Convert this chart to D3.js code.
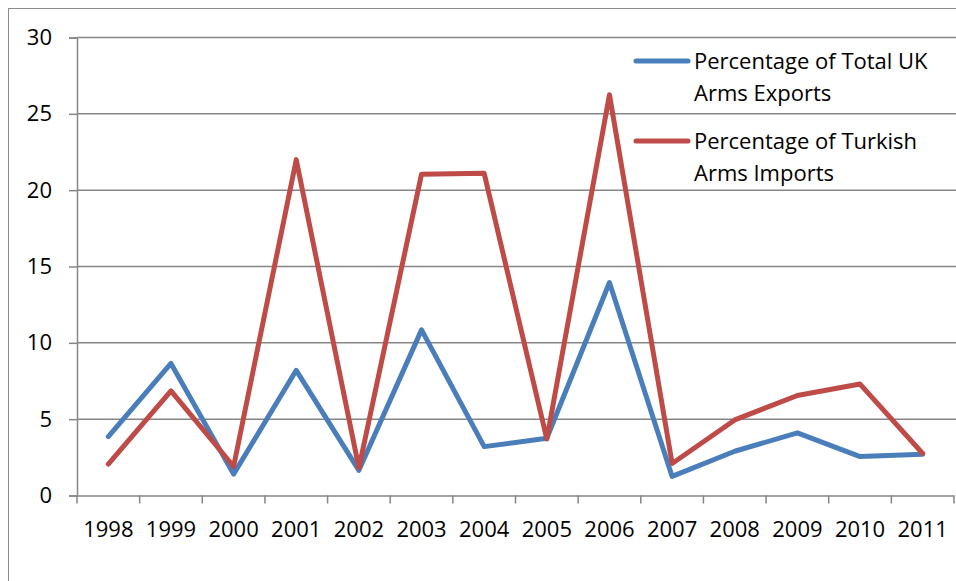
<!DOCTYPE html>
<html>
<head>
<meta charset="utf-8">
<script src="https://cdn.jsdelivr.net/npm/d3@7"></script>
<style>
  html, body { margin: 0; padding: 0; background: #fff; }
  svg { display: block; }
  text { font-family: "Open Sans", Lato, sans-serif; fill: #000; }
</style>
</head>
<body>
<svg id="chart" width="956" height="581"></svg>
<script>
// Years on the category axis
const years = ["1998","1999","2000","2001","2002","2003","2004","2005","2006","2007","2008","2009","2010","2011"];
// UK arms exports to Turkey as % of total UK arms exports
const ukExportShare = [3.85, 8.65, 1.4, 8.2, 1.65, 10.85, 3.2, 3.75, 13.95, 1.25, 2.9, 4.1, 2.55, 2.7];
// UK share of Turkish arms imports (%)
const turkishImportShare = [2.05, 6.85, 1.9, 22.0, 1.8, 21.05, 21.1, 3.7, 26.25, 2.1, 4.95, 6.55, 7.3, 2.75];
// Value-axis ticks
const yTicks = [0, 5, 10, 15, 20, 25, 30];

const seriesNames = [
  ["Percentage of Total UK", "Arms Exports"],
  ["Percentage of Turkish", "Arms Imports"]
];
const colors = ["#4A7EBB", "#BE4B48"];
const fontFamily = "'Open Sans', Lato, sans-serif";

const svg = d3.select("#chart");
const plot = { left: 77, right: 954, top: 37.5, bottom: 495.5 };

// Outer chart frame
svg.append("rect")
  .attr("x", 8.5).attr("y", 8.5)
  .attr("width", 1000).attr("height", 1000)
  .attr("fill", "none").attr("stroke", "#8c8c8c").attr("stroke-width", 1);

const x = d3.scaleBand().domain(years).range([plot.left, plot.right]).padding(0);
const y = d3.scaleLinear().domain([0, 30]).range([plot.bottom, plot.top]);

// Horizontal gridlines
svg.append("g").selectAll("line").data(yTicks.filter(d => d > 0)).join("line")
  .attr("x1", plot.left).attr("x2", plot.right + 10)
  .attr("y1", d => y(d)).attr("y2", d => y(d))
  .attr("stroke", "#868686").attr("stroke-width", 1.5);

// Value axis
const yAxis = svg.append("g")
  .attr("transform", `translate(${plot.left},0)`)
  .call(d3.axisLeft(y).tickValues(yTicks).tickSize(8).tickPadding(17).tickFormat(d3.format("d")));
yAxis.select(".domain").attr("stroke", "#868686").attr("stroke-width", 1.5);
yAxis.selectAll(".tick line").attr("stroke", "#868686").attr("stroke-width", 1.5);
yAxis.selectAll(".tick text").attr("font-size", 22).attr("font-family", fontFamily).attr("fill", "#000");

// Category axis
const xAxis = svg.append("g")
  .attr("transform", `translate(0,${plot.bottom})`)
  .call(d3.axisBottom(x).tickSize(0).tickPadding(26));
xAxis.select(".domain").attr("stroke", "#868686").attr("stroke-width", 1.5);
xAxis.selectAll(".tick text").attr("font-size", 22).attr("font-family", fontFamily).attr("fill", "#000");
// Tick marks sit on the band boundaries
const boundaries = years.map(d => x(d)).concat([x(years[years.length - 1]) + x.bandwidth()]);
svg.append("g").selectAll("line").data(boundaries).join("line")
  .attr("x1", d => d).attr("x2", d => d)
  .attr("y1", plot.bottom).attr("y2", plot.bottom + 8)
  .attr("stroke", "#868686").attr("stroke-width", 1.5);

// Series lines
const line = d3.line()
  .x((d, i) => x(years[i]) + x.bandwidth() / 2)
  .y(d => y(d));
[ukExportShare, turkishImportShare].forEach((vals, k) => {
  svg.append("path")
    .datum(vals)
    .attr("d", line)
    .attr("fill", "none")
    .attr("stroke", colors[k])
    .attr("stroke-width", 5)
    .attr("stroke-linejoin", "round")
    .attr("stroke-linecap", "round");
});

// Legend
const legend = svg.append("g");
const legendRows = [61, 141];
seriesNames.forEach((lines, k) => {
  const cy = legendRows[k];
  legend.append("line")
    .attr("x1", 636).attr("x2", 688)
    .attr("y1", cy).attr("y2", cy)
    .attr("stroke", colors[k]).attr("stroke-width", 5)
    .attr("stroke-linecap", "round");
  lines.forEach((t, j) => {
    legend.append("text")
      .attr("x", 694).attr("y", cy + 7.5 + j * 32)
      .attr("font-size", 22)
      .attr("font-family", fontFamily)
      .text(t);
  });
});
</script>
</body>
</html>
